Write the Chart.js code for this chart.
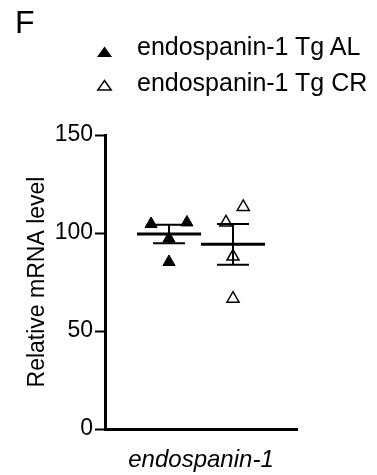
<!DOCTYPE html>
<html>
<head>
<meta charset="utf-8">
<script src="https://cdn.jsdelivr.net/npm/chart.js@4"></script>
<style>
html, body { margin: 0; padding: 0; background: #fff; }
#wrap { position: relative; width: 377px; height: 475px; font-family: "Liberation Sans", Arial, sans-serif; color: #000; }
#myChart { position: absolute; left: 0; top: 0; }
.lbl { position: absolute; white-space: nowrap; line-height: 1; }
</style>
</head>
<body>
<div id="wrap">
  <canvas id="myChart" width="377" height="475"></canvas>
  <div class="lbl" style="left:15px;top:6px;font-size:32px">F</div>
  <svg style="position:absolute;left:0;top:0" width="377" height="110">
    <polygon points="104.5,46.5 112,57 97,57" fill="#000"/>
    <polygon points="104.5,80.5 111.2,90 97.8,90" fill="none" stroke="#000" stroke-width="1.5"/>
  </svg>
  <div class="lbl" id="leg0" style="left:137px;top:34px;font-size:25px"></div>
  <div class="lbl" id="leg1" style="left:137px;top:70px;font-size:25px"></div>
</div>
<script>
// groups and values
var groups = ['endospanin-1 Tg AL', 'endospanin-1 Tg CR'];
var geneName = 'endospanin-1';
var alValues = [104.6, 105.4, 97.2, 85.2];
var crValues = [113.3, 105.4, 88.0, 66.5];
var groupMeans = [99.5, 94.2];
var groupSem = [4.7, 10.4];
var yTicks = [0, 50, 100, 150];

document.getElementById('leg0').textContent = groups[0];
document.getElementById('leg1').textContent = groups[1];

// horizontal spread of the dots inside each column
var alJitter = [-0.28, 0.28, 0, 0];
var crJitter = [0.16, -0.11, 0, 0];
var centers = [1, 2];

function pts(vals, jit, c) {
    return vals.map((v, i) => ({ x: c + jit[i], y: v }));
}

function meanLine(i) {
    var c = centers[i], m = groupMeans[i];
    return [{ x: c - 0.5, y: m }, { x: c + 0.5, y: m }];
}

function semLines(i) {
    var c = centers[i], m = groupMeans[i], s = groupSem[i], w = 0.25;
    return [
        { x: c - w, y: m + s }, { x: c + w, y: m + s }, { x: c, y: null },
        { x: c, y: m + s }, { x: c, y: m - s }, { x: c, y: null },
        { x: c - w, y: m - s }, { x: c + w, y: m - s }
    ];
}

var lineStyle = { type: 'line', borderColor: '#000', pointRadius: 0, spanGaps: false, fill: false, tension: 0 };

var ctx = document.getElementById('myChart').getContext('2d');
var myChart = new Chart(ctx, {
    type: 'scatter',
    data: {
        datasets: [
            {
                label: groups[0],
                data: pts(alValues, alJitter, centers[0]),
                pointStyle: 'triangle',
                pointRadius: 7,
                backgroundColor: '#000',
                borderColor: '#000',
                borderWidth: 1
            },
            {
                label: groups[1],
                data: pts(crValues, crJitter, centers[1]),
                pointStyle: 'triangle',
                pointRadius: 7,
                backgroundColor: 'rgba(255,255,255,0)',
                borderColor: '#000',
                borderWidth: 1.5
            },
            Object.assign({ data: meanLine(0), borderWidth: 3 }, lineStyle),
            Object.assign({ data: meanLine(1), borderWidth: 3 }, lineStyle),
            Object.assign({ data: semLines(0), borderWidth: 2 }, lineStyle),
            Object.assign({ data: semLines(1), borderWidth: 2 }, lineStyle)
        ]
    },
    options: {
        responsive: false,
        animation: false,
        layout: { padding: { top: 135, right: 80, left: 0, bottom: 0 } },
        plugins: { legend: { display: false }, tooltip: { enabled: false } },
        scales: {
            x: {
                type: 'linear',
                min: 0,
                max: 3,
                grid: { display: false, drawTicks: false },
                border: { display: true, color: '#000', width: 3 },
                ticks: { display: false },
                title: {
                    display: true,
                    text: geneName,
                    color: '#000',
                    font: { family: 'Liberation Sans', size: 24, style: 'italic' },
                    padding: { top: 0, bottom: 0 }
                },
                afterFit: s => { s.height = 46; }
            },
            y: {
                min: 0,
                max: 150,
                afterBuildTicks: s => { s.ticks = yTicks.map(v => ({ value: v })); },
                grid: { drawOnChartArea: false, drawTicks: true, tickLength: 10, tickWidth: 2, tickColor: '#000' },
                border: { display: true, color: '#000', width: 3 },
                ticks: { color: '#000', padding: 2, font: { family: 'Liberation Sans', size: 23 } },
                title: {
                    display: true,
                    text: 'Relative mRNA level',
                    color: '#000',
                    font: { family: 'Liberation Sans', size: 23 },
                    padding: { top: 24, bottom: 0 }
                },
                afterFit: s => { s.width = 105; }
            }
        }
    }
});
</script>
</body>
</html>
